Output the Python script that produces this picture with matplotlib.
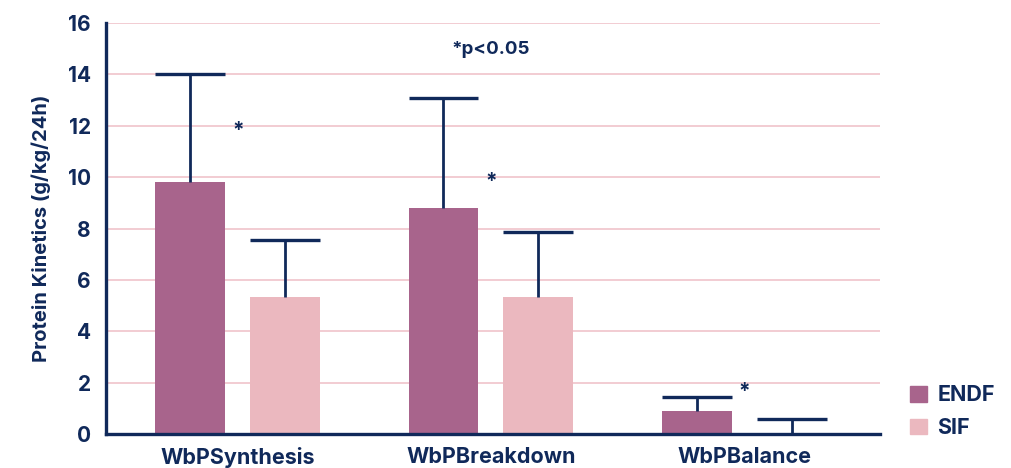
import numpy as np
import matplotlib.pyplot as plt
from matplotlib.patches import Patch

# Whole-body protein kinetics, ENDF vs SIF
categories = ['WbPSynthesis', 'WbPBreakdown', 'WbPBalance']
endf_mean = [9.8, 8.8, 0.9]
endf_err = [4.2, 4.28, 0.55]
sif_mean = [5.35, 5.35, 0.0]
sif_err = [2.2, 2.5, 0.57]
star_y = [11.8, 9.8, 1.65]

NAVY = '#10295A'
ENDF_C = '#A8648C'
SIF_C = '#EBB8BF'
GRID_C = '#F0C3CB'

plt.rcParams['font.family'] = ['Inter', 'DejaVu Sans']

fig = plt.figure(figsize=(10.11, 4.68), dpi=100)
ax = fig.add_axes([0.105, 0.0726, 0.765, 0.8783])

x = np.arange(len(categories))
w = 0.276
off = 0.1875

ax.bar(x - off, endf_mean, w, color=ENDF_C, zorder=3)
ax.bar(x + off, sif_mean, w, color=SIF_C, zorder=3)

# upper-only error bars: stem from bar top, cap as wide as the bar
for xs, m, e in [(x - off, endf_mean, endf_err), (x + off, sif_mean, sif_err)]:
    top = np.array(m) + np.array(e)
    ax.vlines(xs, m, top, color=NAVY, linewidth=2, zorder=4)
    ax.hlines(top, xs - w / 2, xs + w / 2, color=NAVY, linewidth=2.4, zorder=4)

for xi, sy in zip(x, star_y):
    ax.text(xi, sy, '*', ha='center', va='center', color=NAVY,
            fontsize=15, fontweight='bold')

ax.text(1.0, 14.95, '*p<0.05', ha='center', va='center', color=NAVY,
        fontsize=13.5, fontweight='bold')

ax.set_xlim(-0.52, 2.535)
ax.set_ylim(0, 16)
ax.set_yticks(range(0, 17, 2))
ax.yaxis.grid(True, color=GRID_C, linewidth=1.2, zorder=0)
ax.set_axisbelow(True)
ax.set_xticks(x)
ax.set_xticklabels(categories)
ax.tick_params(axis='both', length=0, colors=NAVY)
ax.tick_params(axis='y', pad=11, labelsize=15)
ax.tick_params(axis='x', pad=9, labelsize=15.5)
for lbl in ax.get_xticklabels() + ax.get_yticklabels():
    lbl.set_fontweight('bold')

ax.set_ylabel('Protein Kinetics (g/kg/24h)', color=NAVY, fontsize=14.5,
              fontweight='bold', labelpad=12)

for s in ['top', 'right']:
    ax.spines[s].set_visible(False)
for s in ['left', 'bottom']:
    ax.spines[s].set_color(NAVY)
    ax.spines[s].set_linewidth(2.4)
    ax.spines[s].set_zorder(5)

handles = [Patch(color=ENDF_C, label='ENDF'), Patch(color=SIF_C, label='SIF')]
leg = ax.legend(handles=handles, loc='upper left', bbox_to_anchor=(1.026, 0.145),
                frameon=False, handlelength=0.75, handleheight=0.75,
                handletextpad=0.5, labelspacing=0.6, borderpad=0,
                prop={'weight': 'bold', 'size': 15.5})
for t in leg.get_texts():
    t.set_color(NAVY)

fig.savefig('out.png', dpi=100)
